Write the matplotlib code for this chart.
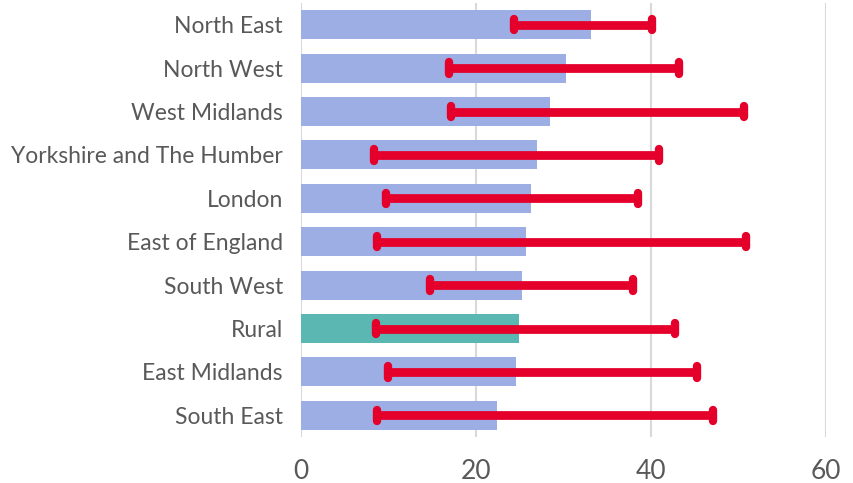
import matplotlib.pyplot as plt

regions = ['North East', 'North West', 'West Midlands', 'Yorkshire and The Humber',
           'London', 'East of England', 'South West', 'Rural', 'East Midlands', 'South East']
values = [33.1, 30.3, 28.5, 27.0, 26.3, 25.7, 25.3, 24.9, 24.6, 22.4]
low = [24.3, 16.9, 17.1, 8.3, 9.7, 8.7, 14.7, 8.6, 10.0, 8.7]
high = [40.1, 43.2, 50.6, 40.9, 38.5, 50.9, 37.9, 42.7, 45.3, 47.1]

plt.rcParams['font.family'] = ['Lato', 'DejaVu Sans']

fig = plt.figure(figsize=(8.54, 4.83), dpi=100)
ax = fig.add_axes([301 / 854, 1 - 437 / 483, 525 / 854, 434 / 483])

y = list(range(len(regions)))
colors = ['#5BB7B1' if r == 'Rural' else '#9DAEE5' for r in regions]
ax.barh(y, values, height=0.67, color=colors, zorder=2)

red = '#E4002B'
ax.hlines(y, low, high, color=red, linewidth=6.3, zorder=3, capstyle='butt')
for yi, lo, hi in zip(y, low, high):
    ax.vlines([lo, hi], yi - 0.13, yi + 0.13, color=red, linewidth=6,
              capstyle='round', zorder=4)

ax.set_xlim(0, 60)
ax.set_ylim(len(regions) - 0.5, -0.5)
ax.set_xticks([0, 20, 40, 60])
ax.set_yticks(y)
ax.set_yticklabels(regions)
ax.grid(axis='x', color='#D9D9D9', linewidth=1.5, zorder=0)
for s in ax.spines.values():
    s.set_visible(False)
ax.tick_params(axis='y', length=0, pad=13, labelsize=16.5, labelcolor='#595959')
ax.tick_params(axis='x', length=0, pad=16, labelsize=19, labelcolor='#595959')

plt.savefig('out.png', dpi=100)
